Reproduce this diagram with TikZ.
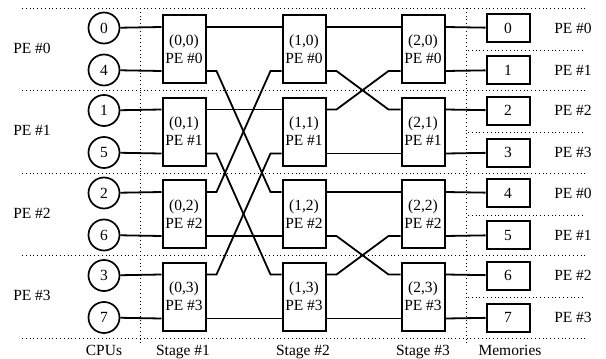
\documentclass[tikz,border=0pt]{standalone}
\usepackage{fontspec}
\setmainfont{Liberation Serif}
\usetikzlibrary{calc, positioning}

\begin{document}
\begin{tikzpicture}[x=1pt, y=-1pt, font=\fontsize{15.5}{18}\selectfont,
  cpu/.style={draw, circle, line width=1.7pt, minimum size=31pt, inner sep=0pt},
  pe/.style={draw, line width=2pt, minimum width=43pt, minimum height=68pt,
             inner sep=0pt, align=center},
  mem/.style={draw, line width=2pt, minimum width=43pt, minimum height=28pt, inner sep=0pt},
  wire/.style={line width=1.8pt},
  sep/.style={line width=1pt, dash pattern=on 1pt off 2.8pt}]
  \useasboundingbox (0,0) rectangle (606,359);

  % Separators
  \foreach \yy in {8, 90.5, 173, 255.5, 338}
    \draw[sep] (22,\yy) -- (585,\yy);
  \foreach \yy in {50, 132.5, 215, 297.5}
    \draw[sep] (468,\yy) -- (585,\yy);
  \draw[sep] (140,8) -- (140,343);
  \draw[sep] (466,8) -- (466,343);

  % CPUs
  \foreach \k in {0,...,3} {
    \pgfmathtruncatemacro\j{\k+4}
    \node[cpu] (c\k) at (104, 28+82.5*\k) {\k};
    \node[cpu] (c\j) at (104, 70+82.5*\k) {\j};
    \node[anchor=base] (lpe\k) at (32, 53+82.5*\k) {PE \#\k};
  }

  % Switching stages
  \foreach \s/\t/\xx in {1/0/184, 2/1/304, 3/2/423}
    \foreach \k in {0,...,3} {
      \node[pe] (s\s-\k) at (\xx, 49+82.5*\k) {(\t,\k)\\PE \#\k};
      \coordinate (s\s-\k-iu) at ([yshift=-13pt]s\s-\k.north west);
      \coordinate (s\s-\k-il) at ([yshift=13pt]s\s-\k.south west);
      \coordinate (s\s-\k-ou) at ([yshift=-13pt]s\s-\k.north east);
      \coordinate (s\s-\k-ol) at ([yshift=13pt]s\s-\k.south east);
    }

  % Memories
  \foreach \k in {0,...,3} {
    \pgfmathtruncatemacro\i{2*\k}
    \pgfmathtruncatemacro\j{2*\k+1}
    \pgfmathtruncatemacro\p{mod(\i,4)}
    \pgfmathtruncatemacro\q{mod(\j,4)}
    \node[mem] (m\i) at (508, 28+82.5*\k) {\i};
    \node[mem] (m\j) at (508, 70+82.5*\k) {\j};
    \node (rpe\i) at (573, 28+82.5*\k) {PE \#\p};
    \node (rpe\j) at (573, 70+82.5*\k) {PE \#\q};
  }

  % CPUs -> stage #1
  \foreach \k in {0,...,3} {
    \pgfmathtruncatemacro\j{\k+4}
    \draw[wire] (c\k) -- (s1-\k-iu);
    \draw[wire] (c\j) -- (s1-\k-il);
  }

  % Stage #1 -> stage #2
  \foreach \a/\b in {0-ou/0-iu, 0-ol/2-iu, 1-ou/1-iu, 1-ol/3-iu,
                     2-ou/0-il, 2-ol/2-il, 3-ou/1-il, 3-ol/3-il}
    \draw[wire] (s1-\a) -- ++(10,0) -- ([xshift=-11pt]s2-\b) -- (s2-\b);

  % Stage #2 -> stage #3
  \foreach \a/\b in {0-ou/0-iu, 0-ol/1-iu, 1-ou/0-il, 1-ol/1-il,
                     2-ou/2-iu, 2-ol/3-iu, 3-ou/2-il, 3-ol/3-il}
    \draw[wire] (s2-\a) -- ++(10,0) -- ([xshift=-12pt]s3-\b) -- (s3-\b);

  % Stage #3 -> memories
  \foreach \k in {0,...,3} {
    \pgfmathtruncatemacro\i{2*\k}
    \pgfmathtruncatemacro\j{2*\k+1}
    \draw[wire] (s3-\k-ou) -- (m\i);
    \draw[wire] (s3-\k-ol) -- (m\j);
  }

  % Column captions
  \node[anchor=base] (tcpu) at (104,355) {CPUs};
  \node[anchor=base] (tst1) at (183,355) {Stage \#1};
  \node[anchor=base] (tst2) at (303,355) {Stage \#2};
  \node[anchor=base] (tst3) at (423,355) {Stage \#3};
  \node[anchor=base] (tmem) at (510,355) {Memories};
\end{tikzpicture}
\end{document}
